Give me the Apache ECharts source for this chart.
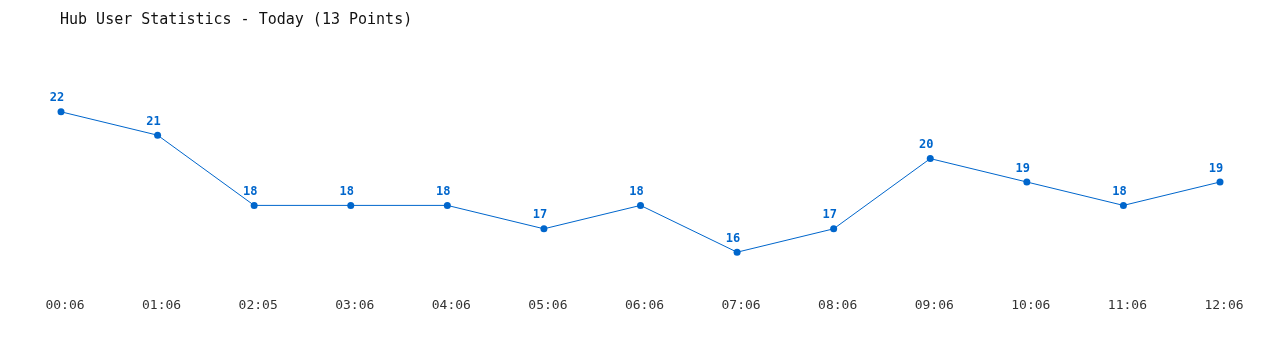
<!DOCTYPE html>
<html><head><meta charset="utf-8">
<script src="https://cdn.jsdelivr.net/npm/echarts@6/dist/echarts.min.js"></script>
<style>html,body{margin:0;padding:0;background:#fff}#c{width:1280px;height:350px}</style>
</head><body><div id="c"></div>
<script>
const categories = ['00:06','01:06','02:05','03:06','04:06','05:06','06:06','07:06','08:06','09:06','10:06','11:06','12:06'];
const users = [22,21,18,18,18,17,18,16,17,20,19,18,19];
const titleText = 'Hub User Statistics - Today (13 Points)';
const chart = echarts.init(document.getElementById('c'));
chart.setOption({
  animation: false,
  backgroundColor: '#fff',
  title: { text: titleText, left: 55, top: 8,
    textStyle: { fontFamily: 'DejaVu Sans Mono', fontSize: 15, fontWeight: 'normal', color: '#111' } },
  grid: { left: 61, right: 60, top: 65, bottom: 51 },
  xAxis: { type: 'category', data: categories, boundaryGap: false,
    axisLine: { show: false }, axisTick: { show: false }, splitLine: { show: false },
    axisLabel: { fontFamily: 'DejaVu Sans Mono', fontSize: 13, color: '#333', margin: 0, padding: [0, 0, 0, 8] } },
  yAxis: { type: 'value', min: 14, max: 24, show: false, splitLine: { show: false } },
  series: [{ type: 'line', data: users, symbol: 'circle', symbolSize: 7,
    lineStyle: { color: '#0066cc', width: 1 }, itemStyle: { color: '#0066cc' },
    label: { show: true, position: 'top', distance: 4, offset: [-4, 0], color: '#0066cc',
      fontFamily: 'DejaVu Sans Mono', fontWeight: 'bold', fontSize: 12 } }]
});
</script></body></html>
